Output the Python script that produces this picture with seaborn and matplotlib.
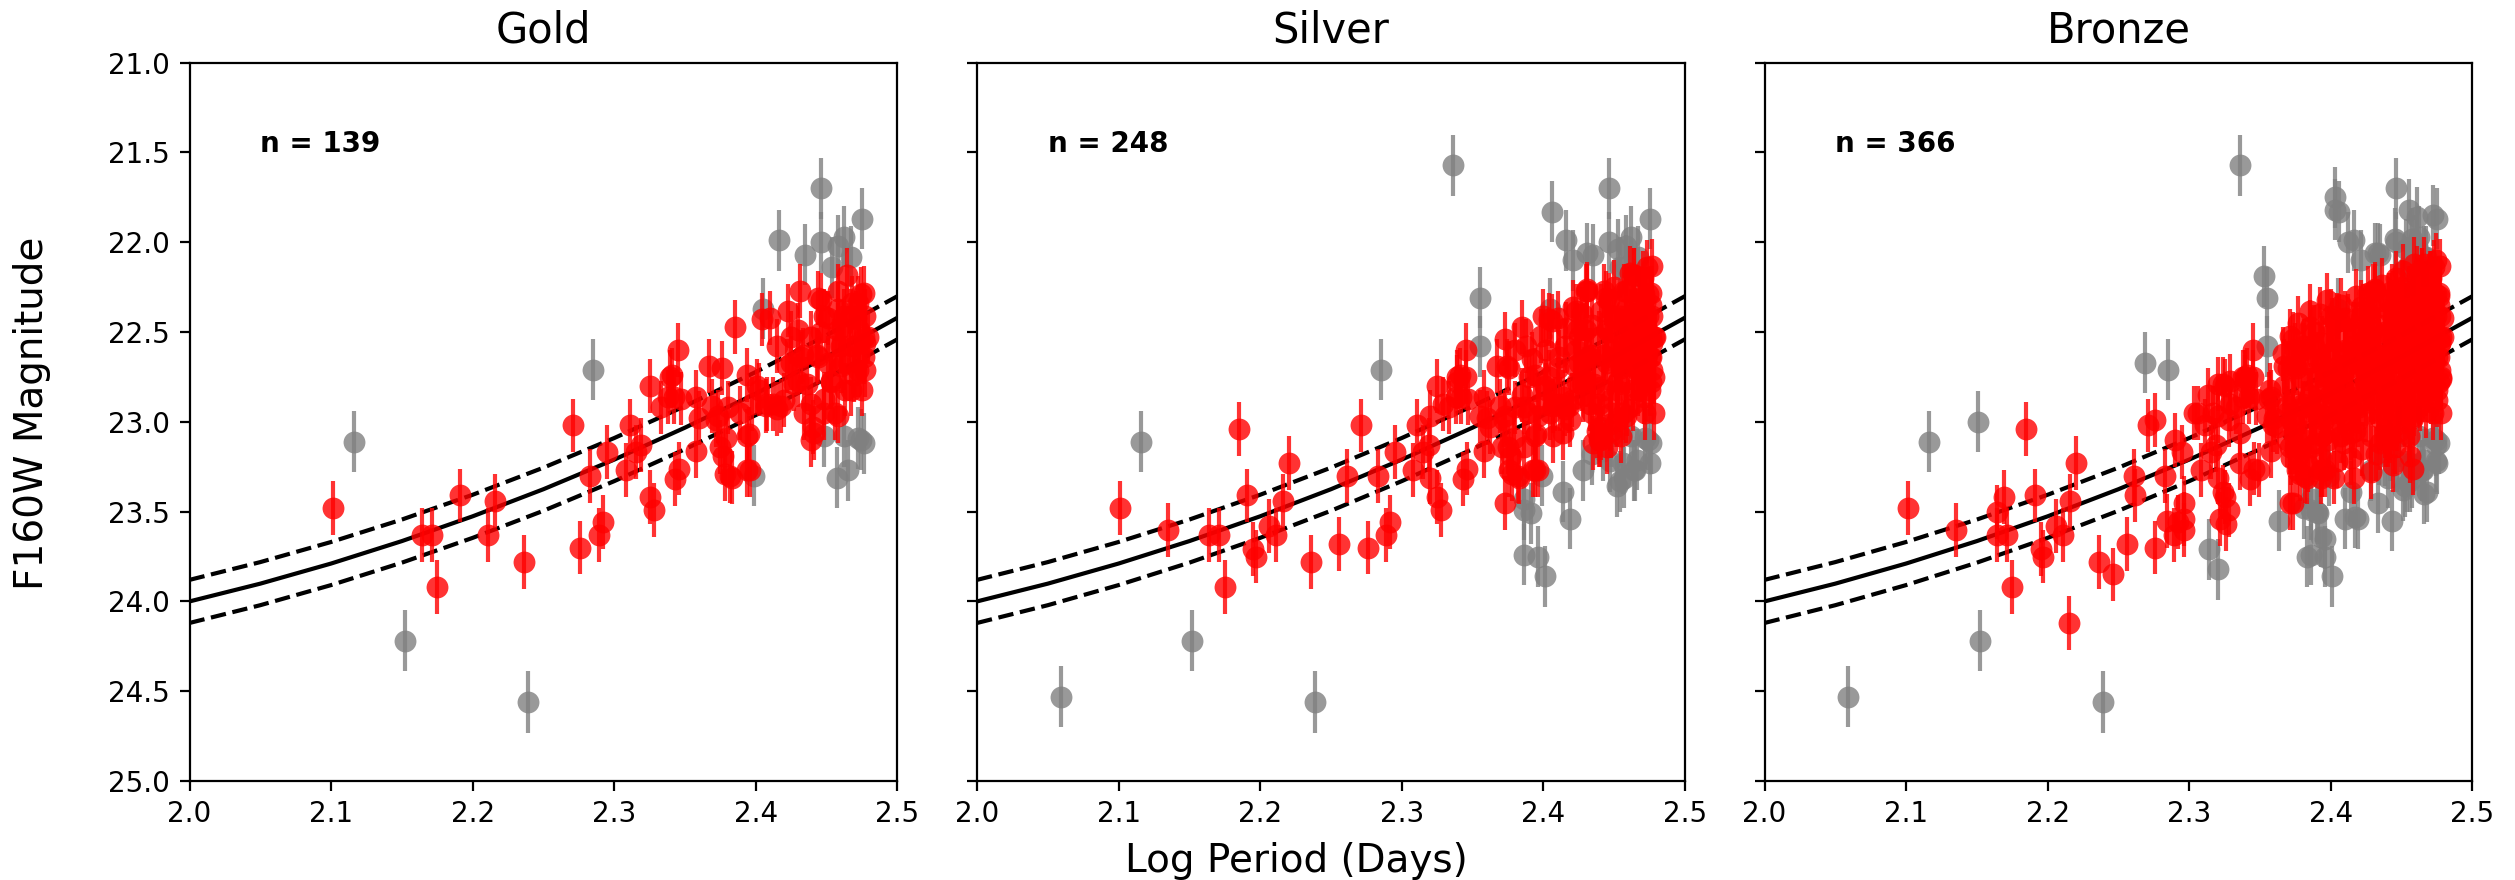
import numpy as np
import matplotlib
matplotlib.use("Agg")
import matplotlib.pyplot as plt
import seaborn as sns

plt.rcParams['font.family'] = ['DejaVu Sans']

# ---------------- data ----------------
panel_titles = ["Gold", "Silver", "Bronze"]
panel_counts = [139, 248, 366]
x_ticks = [2.0, 2.1, 2.2, 2.3, 2.4, 2.5]
y_ticks = [21.0, 21.5, 22.0, 22.5, 23.0, 23.5, 24.0, 24.5, 25.0]

# fitted P-L relation and its scatter band
fit_x = [2.00, 2.05, 2.10, 2.15, 2.20, 2.25, 2.30, 2.35, 2.40, 2.45, 2.50]
fit_y = [24.000, 23.901, 23.789, 23.664, 23.526, 23.375, 23.210, 23.032, 22.842, 22.637, 22.420]
fit_scatter = 0.12

red_err = 0.15
gray_err = 0.17

# Gold sample (kept, red)
gold_red = [
    (2.101, 23.48), (2.164, 23.63), (2.171, 23.63), (2.175, 23.92), (2.191, 23.41),
    (2.211, 23.63), (2.216, 23.44), (2.236, 23.78), (2.271, 23.02), (2.276, 23.70),
    (2.283, 23.30), (2.289, 23.63), (2.292, 23.56), (2.295, 23.17), (2.308, 23.27),
    (2.311, 23.02), (2.315, 23.17), (2.319, 23.13), (2.325, 22.80), (2.325, 23.42),
    (2.328, 23.49), (2.333, 22.92), (2.338, 22.86), (2.339, 22.75), (2.341, 22.74),
    (2.342, 22.86), (2.343, 23.32), (2.345, 22.60), (2.346, 23.26), (2.347, 22.87),
    (2.358, 22.86), (2.358, 23.16), (2.360, 22.98), (2.367, 22.69), (2.369, 22.91),
    (2.372, 22.99), (2.373, 22.97), (2.375, 23.14), (2.376, 22.70), (2.377, 23.19),
    (2.378, 23.29), (2.379, 23.09), (2.380, 22.92), (2.382, 23.30), (2.383, 23.31),
    (2.385, 22.47), (2.389, 22.95), (2.394, 22.74), (2.394, 23.08), (2.394, 23.27),
    (2.395, 23.07), (2.396, 23.27), (2.397, 22.90), (2.401, 22.80), (2.402, 22.82),
    (2.404, 22.43), (2.407, 22.91), (2.408, 22.90), (2.410, 22.42), (2.412, 22.90),
    (2.415, 22.58), (2.415, 22.93), (2.418, 22.91), (2.420, 22.88), (2.422, 22.69),
    (2.423, 22.38), (2.425, 22.53), (2.425, 22.67), (2.427, 22.79), (2.430, 22.77),
    (2.430, 22.49), (2.431, 22.27), (2.432, 22.64), (2.433, 22.63), (2.434, 22.95),
    (2.436, 22.79), (2.439, 22.90), (2.439, 22.53), (2.439, 23.10), (2.440, 23.03),
    (2.441, 23.06), (2.443, 22.63), (2.444, 22.31), (2.444, 22.64), (2.446, 22.32),
    (2.446, 22.50), (2.448, 22.87), (2.448, 22.41), (2.448, 22.95), (2.451, 22.42),
    (2.451, 22.67), (2.453, 22.77), (2.453, 22.78), (2.455, 22.58), (2.456, 22.95),
    (2.458, 22.37), (2.458, 22.27), (2.458, 22.49), (2.458, 22.97), (2.460, 22.69),
    (2.460, 22.58), (2.461, 22.47), (2.462, 22.41), (2.462, 22.67), (2.463, 22.82),
    (2.464, 22.18), (2.466, 22.58), (2.467, 22.41), (2.467, 22.82), (2.468, 22.34),
    (2.469, 22.74), (2.469, 22.58), (2.471, 22.42), (2.472, 22.34), (2.472, 22.71),
    (2.473, 22.63), (2.473, 22.49), (2.474, 22.29), (2.475, 22.82), (2.476, 22.53),
    (2.476, 22.28), (2.476, 22.64), (2.477, 22.71), (2.477, 22.41), (2.477, 22.56),
    (2.479, 22.53),
]

# Gold sample (rejected, grey)
gold_gray = [
    (2.116, 23.11), (2.152, 24.22), (2.239, 24.56), (2.285, 22.71), (2.399, 23.30),
    (2.405, 22.37), (2.416, 21.99), (2.435, 22.07), (2.446, 21.70), (2.446, 22.00),
    (2.454, 22.14), (2.458, 22.02), (2.462, 21.97), (2.467, 22.08), (2.475, 21.87),
    (2.448, 23.08), (2.457, 23.31), (2.462, 23.08), (2.465, 23.27), (2.472, 23.09),
    (2.476, 23.12), (2.474, 23.10),
]

# Additional objects in the Silver sample
silver_red = [
    (2.135, 23.60), (2.185, 23.04), (2.195, 23.71), (2.197, 23.75), (2.206, 23.58),
    (2.220, 23.23), (2.256, 23.68), (2.261, 23.30), (2.320, 22.97), (2.320, 23.31),
    (2.329, 22.90), (2.339, 22.78), (2.345, 22.75), (2.355, 22.97), (2.362, 23.03),
    (2.373, 22.54), (2.374, 22.69), (2.371, 23.14), (2.373, 23.45), (2.376, 23.27),
    (2.380, 22.60), (2.385, 22.85), (2.386, 22.92), (2.386, 23.14), (2.388, 22.58),
    (2.390, 22.75), (2.392, 22.65), (2.393, 23.27), (2.396, 22.97), (2.398, 22.52),
    (2.400, 22.41), (2.402, 22.60), (2.404, 22.75), (2.405, 22.95), (2.406, 22.44),
    (2.407, 23.08), (2.410, 22.70), (2.411, 22.64), (2.414, 22.86), (2.414, 23.06),
    (2.416, 22.48), (2.419, 22.99), (2.421, 22.36), (2.423, 22.60), (2.424, 22.49),
    (2.424, 22.78), (2.427, 22.40), (2.428, 22.85), (2.430, 22.27), (2.430, 22.64),
    (2.431, 22.26), (2.433, 22.90), (2.434, 22.46), (2.435, 23.12), (2.436, 22.72),
    (2.438, 23.05), (2.440, 23.10), (2.441, 22.38), (2.442, 22.82), (2.443, 22.27),
    (2.445, 22.49), (2.445, 22.67), (2.445, 23.14), (2.447, 23.01), (2.448, 23.05),
    (2.449, 22.60), (2.450, 22.25), (2.452, 22.82), (2.452, 22.99), (2.454, 22.41),
    (2.455, 22.70), (2.455, 23.08), (2.457, 22.27), (2.457, 22.58), (2.459, 22.93),
    (2.459, 22.45), (2.461, 22.17), (2.463, 22.49), (2.463, 22.90), (2.464, 22.18),
    (2.465, 22.62), (2.466, 22.71), (2.468, 22.31), (2.468, 22.48), (2.470, 22.20),
    (2.471, 22.86), (2.471, 22.29), (2.472, 22.95), (2.473, 22.14), (2.474, 22.41),
    (2.474, 22.55), (2.475, 22.64), (2.476, 22.78), (2.476, 22.35), (2.477, 22.13),
    (2.478, 22.53), (2.478, 22.95), (2.478, 22.75),
]

silver_gray = [
    (2.059, 24.53), (2.336, 21.57), (2.355, 22.31), (2.355, 22.58), (2.386, 23.49),
    (2.391, 23.51), (2.386, 23.74), (2.396, 23.75), (2.401, 23.86), (2.406, 21.83),
    (2.421, 22.10), (2.431, 22.06), (2.453, 22.04), (2.428, 23.27), (2.414, 23.39),
    (2.419, 23.54), (2.386, 23.43), (2.442, 23.16), (2.456, 23.23), (2.452, 23.36),
    (2.466, 23.21), (2.475, 23.23), (2.434, 23.18), (2.447, 23.22), (2.454, 23.33),
    (2.464, 23.27), (2.458, 22.13),
]

# Additional objects in the Bronze sample
bronze_red = [
    (2.164, 23.50), (2.169, 23.42), (2.215, 24.12), (2.246, 23.85), (2.262, 23.41),
    (2.276, 22.99), (2.284, 23.55), (2.290, 23.10), (2.296, 23.45), (2.296, 23.60),
    (2.296, 23.54), (2.303, 22.95), (2.306, 22.95), (2.313, 22.85), (2.317, 22.95),
    (2.320, 22.79), (2.322, 23.54), (2.324, 22.79), (2.324, 23.39), (2.326, 23.57),
    (2.328, 22.99), (2.329, 22.77), (2.336, 23.06), (2.336, 23.23), (2.338, 22.75),
    (2.349, 23.27), (2.356, 22.87), (2.357, 22.82), (2.359, 23.02),
    (2.366, 22.62), (2.367, 22.80), (2.368, 22.95), (2.369, 23.10), (2.370, 22.70),
    (2.371, 22.52), (2.372, 23.20), (2.373, 22.88), (2.374, 23.02), (2.375, 22.60),
    (2.377, 22.45), (2.378, 22.75), (2.379, 23.15), (2.380, 22.90), (2.381, 22.58),
    (2.382, 23.05), (2.383, 22.68), (2.384, 23.24), (2.385, 22.38), (2.386, 22.82),
    (2.387, 22.98), (2.388, 22.50), (2.389, 23.12), (2.390, 22.65), (2.391, 22.88),
    (2.392, 22.40), (2.393, 23.20), (2.394, 22.56), (2.395, 22.99), (2.396, 22.72),
    (2.397, 22.32), (2.398, 23.10), (2.399, 22.62), (2.400, 22.84), (2.401, 22.46),
    (2.402, 23.02), (2.403, 22.70), (2.404, 23.22), (2.405, 22.55), (2.406, 22.92),
    (2.407, 22.35), (2.408, 22.78), (2.409, 23.12), (2.410, 22.60), (2.411, 22.98),
    (2.412, 22.44), (2.413, 22.70), (2.414, 23.20), (2.415, 22.84), (2.416, 22.52),
    (2.417, 23.05), (2.418, 22.30), (2.419, 22.66), (2.420, 22.92), (2.421, 22.42),
    (2.422, 23.15), (2.423, 22.74), (2.424, 22.56), (2.425, 22.96), (2.426, 22.28),
    (2.427, 22.64), (2.428, 23.08), (2.429, 22.48), (2.430, 22.86), (2.431, 22.70),
    (2.432, 23.18), (2.433, 22.36), (2.434, 22.58), (2.435, 22.98), (2.436, 22.24),
    (2.437, 22.78), (2.438, 22.50), (2.439, 22.94), (2.440, 22.66), (2.441, 22.32),
    (2.442, 23.08), (2.443, 22.84), (2.444, 22.44), (2.445, 22.72), (2.446, 22.20),
    (2.447, 22.96), (2.448, 22.56), (2.449, 22.36), (2.450, 22.82), (2.451, 22.16),
    (2.452, 22.62), (2.453, 22.92), (2.454, 22.46), (2.455, 22.28), (2.456, 22.76),
    (2.457, 22.54), (2.458, 22.98), (2.459, 22.12), (2.460, 22.38), (2.461, 22.68),
    (2.462, 22.86), (2.463, 22.24), (2.464, 22.50), (2.465, 22.72), (2.466, 22.12),
    (2.467, 22.94), (2.468, 22.36), (2.469, 22.60), (2.470, 22.80), (2.471, 22.20),
    (2.472, 22.48), (2.473, 22.66), (2.474, 22.10), (2.475, 22.88), (2.476, 22.30),
    (2.477, 22.56), (2.478, 22.76), (2.479, 22.42),
    (2.371, 23.45), (2.393, 23.31), (2.402, 23.31), (2.416, 23.31), (2.428, 23.28),
    (2.444, 23.24), (2.456, 23.19), (2.458, 23.26),
]

bronze_gray = [
    (2.151, 23.00), (2.269, 22.67), (2.314, 23.71), (2.320, 23.82), (2.353, 22.19),
    (2.363, 23.55), (2.381, 23.48), (2.390, 23.50), (2.383, 23.75), (2.393, 23.64),
    (2.396, 23.65), (2.410, 23.54), (2.417, 23.53), (2.433, 23.45), (2.443, 23.55),
    (2.451, 23.38), (2.466, 23.40), (2.440, 23.31), (2.474, 23.22), (2.474, 23.13),
    (2.403, 21.75), (2.403, 21.82), (2.412, 22.00), (2.433, 22.06), (2.445, 21.98),
    (2.455, 21.82), (2.461, 21.86), (2.472, 21.85), (2.457, 21.98), (2.461, 22.02),
    (2.466, 22.08), (2.456, 23.33), (2.468, 23.39), (2.438, 23.19),
]

# ---------------- figure ----------------
fig, axes = plt.subplots(1, 3, figsize=(12.575, 4.4), dpi=200, sharey=True)
fig.subplots_adjust(left=0.07535, right=0.9831, top=0.92875, bottom=0.1125, wspace=0.1123)

red_groups = [gold_red, silver_red, bronze_red]
gray_groups = [gold_gray, silver_gray, bronze_gray]

fit_upper = [v - fit_scatter for v in fit_y]
fit_lower = [v + fit_scatter for v in fit_y]

for i, ax in enumerate(axes):
    reds = [p for g in red_groups[: i + 1] for p in g]
    grays = [p for g in gray_groups[: i + 1] for p in g]
    rx, ry = np.array(reds).T
    gx, gy = np.array(grays).T

    sns.lineplot(x=fit_x, y=fit_y, color="black", linewidth=1.5, ax=ax, zorder=1)
    sns.lineplot(x=fit_x, y=fit_upper, color="black", linewidth=1.5, linestyle="--", ax=ax, zorder=1)
    sns.lineplot(x=fit_x, y=fit_lower, color="black", linewidth=1.5, linestyle="--", ax=ax, zorder=1)

    ax.errorbar(gx, gy, yerr=gray_err, fmt="none", ecolor="gray", elinewidth=1.5, alpha=0.8, zorder=2)
    sns.scatterplot(x=gx, y=gy, color="gray", s=62, alpha=0.8, linewidth=0, ax=ax, zorder=3)
    ax.errorbar(rx, ry, yerr=red_err, fmt="none", ecolor="red", elinewidth=1.5, alpha=0.8, zorder=4)
    sns.scatterplot(x=rx, y=ry, color="red", s=62, alpha=0.8, linewidth=0, ax=ax, zorder=5)

    ax.set_xlim(2.0, 2.5)
    ax.set_ylim(25.0, 21.0)
    ax.set_xticks(x_ticks)
    ax.set_xticklabels([f"{t:.1f}" for t in x_ticks], fontsize=10)
    ax.set_yticks(y_ticks)
    ax.set_yticklabels([f"{t:.1f}" for t in y_ticks], fontsize=10)
    ax.tick_params(direction="out", length=3.5, width=0.8)
    ax.set_xlabel("")
    ax.set_ylabel("")
    ax.set_title(panel_titles[i], fontsize=15, pad=7.2)
    ax.text(2.05, 21.5, f"n = {panel_counts[i]}", fontsize=10, fontweight="bold")
    for s in ax.spines.values():
        s.set_linewidth(0.8)
        s.set_color("black")

fig.text(0.5153, 0.0094, "Log Period (Days)", ha="center", va="baseline", fontsize=14)
fig.text(0.0127, 0.5307, "F160W Magnitude", ha="center", va="center", rotation=90, fontsize=14)

fig.savefig("out.png", dpi=200)
